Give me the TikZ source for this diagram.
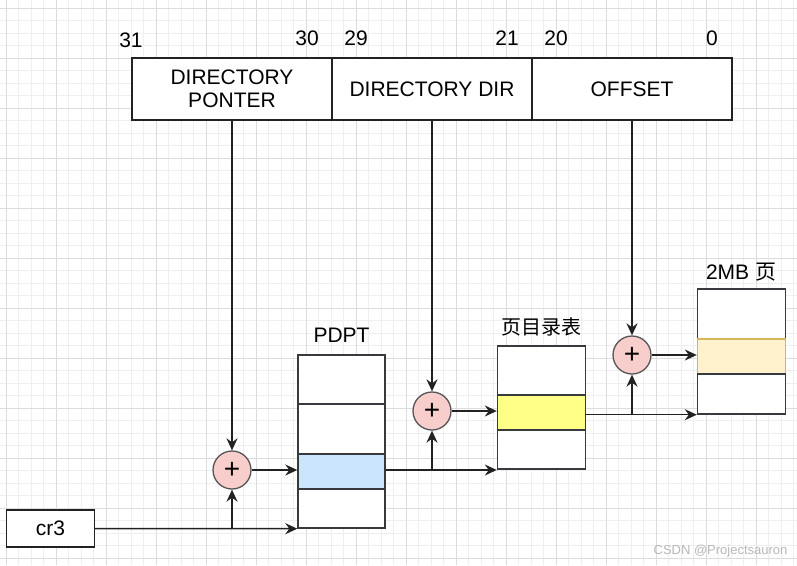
\documentclass[tikz,border=0pt]{standalone}
\usepackage{fontspec}
\setmainfont{Liberation Sans}
\newfontfamily\cjk{Noto Sans CJK SC}
\usetikzlibrary{arrows.meta}
\definecolor{gridmin}{HTML}{EFEFEF}
\definecolor{gridmaj}{HTML}{DCDCDC}
\definecolor{edge}{HTML}{222222}
\definecolor{cellline}{HTML}{36393D}
\definecolor{plusfill}{HTML}{F8CECC}
\definecolor{plusline}{HTML}{555555}
\definecolor{bluefill}{HTML}{CCE5FF}
\definecolor{yelfill}{HTML}{FFFF88}
\definecolor{orfill}{HTML}{FFF2CC}
\definecolor{orline}{HTML}{D6B656}
\tikzset{
  txt/.style={font=\fontsize{21}{24}\selectfont, text=black},
  field/.style={draw=edge, line width=1.4pt, fill=white, inner sep=0pt, txt, align=center},
  cell/.style={draw=cellline, line width=1.4pt, fill=white, inner sep=0pt},
  adder/.style={circle, draw=plusline, line width=1.3pt, fill=plusfill, minimum size=38pt, inner sep=0pt, font=\fontsize{28}{28}\selectfont},
  arr/.style={draw=edge, line width=1.5pt, -{Stealth[length=12pt, width=11pt, inset=4pt]}},
}
\begin{document}
\begin{tikzpicture}[x=1pt, y=-1pt]
\useasboundingbox (0,0) rectangle (797,565);
\fill[white] (0,0) rectangle (797,565);
% grid
\foreach \i in {0,...,63} \draw[gridmin, line width=0.8pt] ({6.25+12.5*\i},0) -- ({6.25+12.5*\i},565);
\foreach \i in {0,...,45} \draw[gridmin, line width=0.8pt] (0,{8.3+12.5*\i}) -- (797,{8.3+12.5*\i});
\foreach \i in {0,...,15} \draw[gridmaj, line width=0.8pt] ({6.25+50*\i},0) -- ({6.25+50*\i},565);
\foreach \i in {0,...,11} \draw[gridmaj, line width=0.8pt] (0,{8.3+50*\i}) -- (797,{8.3+50*\i});

% register fields
\node[field, minimum width=200pt, minimum height=62pt] (f1) at (232,89) {DIRECTORY\\[-1pt]PONTER};
\node[field, minimum width=200pt, minimum height=62pt] (f2) at (432,89) {DIRECTORY DIR};
\node[field, minimum width=200pt, minimum height=62pt] (f3) at (632,89) {OFFSET};

% bit numbers
\node[txt] (b31) at (131,40) {31};
\node[txt] (b30) at (307,38) {30};
\node[txt] (b29) at (356,38) {29};
\node[txt] (b21) at (507,38) {21};
\node[txt] (b20) at (556,38) {20};
\node[txt] (b0) at (712,38) {0};

% cr3
\node[field, minimum width=88pt, minimum height=37pt] (cr3) at (50.5,528.5) {cr3};

% PDPT
\node[cell, minimum width=87pt, minimum height=49pt] (pdpt1) at (341.5,379.5) {};
\node[cell, minimum width=87pt, minimum height=50pt] (pdpt2) at (341.5,429) {};
\node[cell, fill=bluefill, minimum width=87pt, minimum height=35pt] (pdpt3) at (341.5,471.5) {};
\node[cell, minimum width=87pt, minimum height=39pt] (pdpt4) at (341.5,508.5) {};
\node[txt] (lpdpt) at (341.5,335) {PDPT};

% Page directory
\node[cell, minimum width=88pt, minimum height=49pt] (pd1) at (541.5,370.5) {};
\node[cell, fill=yelfill, minimum width=88pt, minimum height=35pt] (pd2) at (541.5,412.5) {};
\node[cell, minimum width=88pt, minimum height=39pt] (pd3) at (541.5,449.5) {};
\node[txt, font=\cjk\fontsize{20}{24}\selectfont] (lpd) at (541,327) {页目录表};

% 2MB page
\node[cell, minimum width=88pt, minimum height=50pt] (pg1) at (741.5,314) {};
\node[cell, draw=orline, fill=orfill, minimum width=88pt, minimum height=35pt] (pg2) at (741.5,356.5) {};
\node[cell, minimum width=88pt, minimum height=40pt] (pg3) at (741.5,394) {};
\node[txt] (lpg) at (741,272) {2MB {\cjk 页}};

% adders
\node[adder] (c1) at (232,470) {+};
\node[adder] (c2) at (432,411) {+};
\node[adder] (c3) at (632,355) {+};

% connectors
\draw[arr] (f1.south) -- (c1.north);
\draw[arr] (f2.south) -- (c2.north);
\draw[arr] (f3.south) -- (c3.north);

\coordinate (j1) at (c1.south |- cr3.east);
\draw[arr] (cr3.east) -- (pdpt4.south west);
\draw[arr] (j1) -- (c1.south);
\draw[arr] (c1.east) -- (c1.east -| pdpt3.west);

\coordinate (p1) at (pdpt3.east |- c1.east);
\coordinate (j2) at (c2.south |- p1);
\draw[arr] (p1) -- (p1 -| pd3.west);
\draw[arr] (j2) -- (c2.south);
\draw[arr] (c2.east) -- (c2.east -| pd2.west);

\coordinate (p2) at (pd2.east |- pg3.south);
\coordinate (j3) at (c3.south |- p2);
\draw[arr] (p2) -- (pg3.south west);
\draw[arr] (j3) -- (c3.south);
\draw[arr] (c3.east) -- (c3.east -| pg2.west);

% watermark
\node[anchor=east, text=black!28, font=\fontsize{13}{15}\selectfont] (wm) at (791,551) {CSDN @Projectsauron};
\end{tikzpicture}
\end{document}
